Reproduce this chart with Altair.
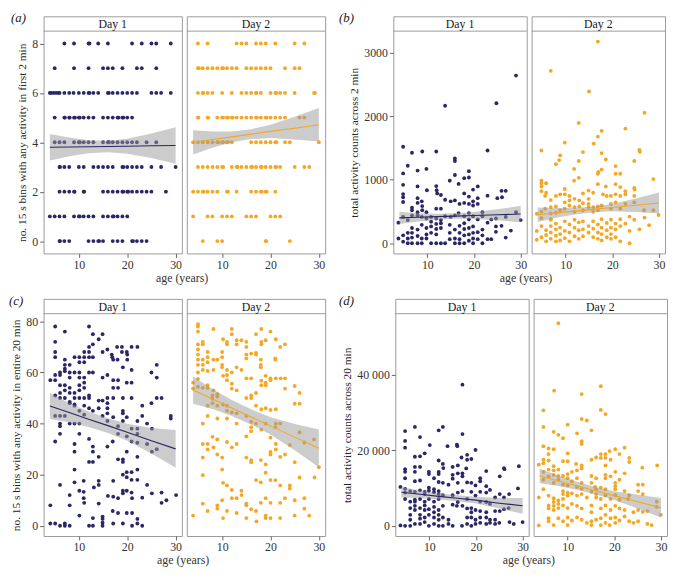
import altair as alt
import pandas as pd

SERIF = "'Liberation Serif', 'Times New Roman', Times, serif"
NAVY = "#2a2766"
ORANGE = "#f5a623"
BAND = "#999999"
BORDER = "#9a9a9a"
AGE_DOMAIN = [2.7, 31.3]
AGE_TICKS = [10, 20, 30]

# ---------- panel (a): activity bins in first 2 min (ages per level) ----------
a1_levels = {
    8: [7, 9, 12, 12.2, 14, 16, 21, 23, 25, 26, 29],
    7: [5, 9, 12, 15, 16, 17, 19, 22, 23, 26],
    6: [4, 4.3, 4.8, 5.3, 5.8, 6, 7, 8, 8.9, 10, 11, 12, 12.2, 13, 14, 16, 16.2, 17, 18, 19, 20, 21, 22, 25, 26, 27, 29],
    5: [5, 7, 7.1, 8, 8.1, 9, 9.2, 10, 10.2, 11, 12, 13, 15, 16, 17, 18, 18.2, 19, 19.2, 20, 21],
    4: [5, 6, 7, 9, 10, 10.2, 11, 12, 13, 15, 16, 16.2, 17, 18, 19, 20, 21, 22, 24, 26],
    3: [6, 6.1, 7, 8, 10, 11, 13, 14, 15, 16, 17, 19, 19.2, 20, 21, 22, 23, 25, 27, 30],
    2: [6, 7, 8, 9, 9.1, 11, 11.1, 15, 16, 17, 18, 19, 19.2, 20, 20.2, 21, 22, 23, 24, 25, 28],
    1: [4, 5, 6, 7, 9, 10, 10.2, 11, 12, 13, 15, 16, 17, 17.2, 18, 19, 20],
    0: [6, 6.1, 7, 8, 12, 13, 14, 14.2, 15, 17, 18, 19, 21, 21.2, 22, 23, 24],
}
a2_levels = {
    8: [5, 7, 13, 14, 15, 17, 18, 19, 21, 25, 27],
    7: [5, 5.2, 6, 7, 8, 9, 10, 10.2, 11, 12, 13, 15, 16, 17, 18, 19, 20, 23, 25, 26],
    6: [5, 6, 6.1, 7, 8, 10, 12, 14, 15, 16, 17, 17.1, 18, 20, 21, 21.2, 22, 23, 25, 29, 29.2],
    5: [5, 5.1, 7, 7.1, 9, 10, 10.2, 11, 11.2, 12, 12.2, 13, 14, 15, 16, 17, 17.2, 18, 19, 19.2, 20, 21, 22, 23, 26, 27],
    4: [4, 5, 6, 7, 8, 9, 9.2, 10, 10.2, 11, 11.2, 12, 16, 17, 18, 19, 20, 21, 21.2, 23, 24, 30],
    3: [5, 6, 7, 8, 9, 10, 10.2, 12, 13, 13.2, 14, 15, 16, 16.2, 17, 18, 18.2, 19, 20, 21, 21.2, 22, 25, 27, 28],
    2: [4, 5, 6, 6.2, 7, 8, 9, 11, 11.2, 13, 16, 17, 18, 18.2, 19, 19.2, 21],
    1: [4, 7, 8, 10, 11, 12, 15, 16, 17, 20, 21, 22],
    0: [6, 9, 10, 19, 19.1, 24],
}

# ---------- panel (b): total activity counts across 2 min (age, count) ----------
b1_pts = [(29.0,2640),(13.8,2165),(24.8,2205),(4.8,1520),(6.7,1425),(8.9,1445),(11.9,1445),(22.9,1460),(5.8,1220),(4.8,1100),(4.8,920),(7.9,1145),(9.8,1170),(15.9,1335),(15.9,1295),(18.9,1135),(18.9,1035),(14.8,985),(15.9,1075),(17.9,1025),(16.7,935),(20.8,895),(19.8,845),(4.8,775),(4.8,725),(4.8,650),(7.9,895),(9.9,835),(11.9,900),(12.0,835),(12.1,785),(12.9,760),(13.8,685),(15.0,660),(15.9,675),(17.9,785),(18.9,735),(18.9,620),(20.8,710),(20.8,620),(22.9,750),(25.0,710),(25.9,825),(26.8,825),(26.0,725),(7.9,710),(7.9,635),(8.8,660),(6.7,560),(6.7,520),(8.9,585),(8.9,520),(11.9,545),(12.9,545),(16.9,620),(17.9,635),(19.8,660),(19.8,595),
          (3.8,325),(4.8,415),(5.8,365),(6.7,440),(7.9,490),(7.9,440),(8.8,415),(9.8,490),(9.8,390),(10.8,415),(10.8,340),(11.9,390),(12.9,365),(13.8,425),(15.0,415),(15.9,440),(16.7,475),(17.9,425),(18.9,475),(18.9,375),(19.8,425),(20.8,375),(21.8,490),(21.8,425),(23.7,375),(24.7,390),(26.8,415),(29.0,490),(30.0,365),
          (3.8,75),(4.8,125),(4.8,25),(5.8,165),(5.8,75),(5.8,0),(6.7,240),(6.7,165),(6.7,90),(6.7,0),(7.9,215),(7.9,115),(7.9,0),(8.8,290),(8.8,75),(8.8,0),(9.8,240),(9.8,140),(9.8,75),(10.8,265),(10.8,165),(10.8,0),(11.9,305),(11.9,225),(11.9,140),(11.9,0),(12.9,315),(12.9,240),(12.9,0),(13.8,0),(14.8,290),(14.8,165),(14.8,65),(15.9,215),(15.9,75),(15.9,0),(16.9,275),(16.9,165),(16.9,65),(16.9,0),(17.9,315),(17.9,225),(17.9,125),(17.9,0),(18.9,240),(18.9,140),(18.9,40),(19.8,265),(19.8,165),(19.8,75),(19.8,0),(20.8,175),(20.8,65),(21.8,215),(21.8,125),(21.8,0),(22.9,325),(22.9,65),(23.7,65),(24.7,265),(24.7,180),(25.9,275),(26.8,90),(27.9,200)]
b2_pts = [(16.9,3175),(6.8,2715),(15.0,2390),(26.9,2055),(12.8,1895),(22.8,1805),(17.7,1770),(16.9,1680),(16.0,1570),(4.8,1460),(9.8,1585),(25.8,1470),(25.9,1440),(13.7,1435),(17.7,1420),(8.8,1385),(8.6,1310),(7.9,1245),(12.8,1295),(18.6,1320),(24.7,1295),(11.8,1170),(17.7,1160),(20.7,1215),(16.9,1095),(17.0,1125),(21.7,1095),(20.7,1095),(28.8,1010),(12.8,1030),(11.8,985),(4.8,985),(4.8,945),(4.8,895),(4.8,820),(5.8,945),(5.8,795),(9.8,855),(14.9,830),(16.9,930),(18.6,895),(20.7,930),(21.7,885),(22.8,820),(24.7,870),(24.8,845),(5.6,745),(6.8,680),(7.9,745),(8.8,770),(9.8,770),(10.8,745),(10.8,675),(11.9,700),(12.9,675),(13.7,785),(14.9,700),(15.9,795),(18.0,770),(18.8,745),(19.7,745),(20.7,770),(21.7,745),(22.8,770),(24.7,745),
          (3.8,465),(4.8,495),(4.8,395),(5.6,545),(6.8,570),(6.8,470),(6.8,380),(7.9,580),(7.9,480),(8.8,520),(9.8,645),(9.8,545),(10.8,595),(11.9,570),(11.9,495),(12.9,580),(13.7,630),(13.7,520),(14.9,620),(14.9,570),(15.9,570),(15.9,495),(16.9,580),(16.9,520),(17.7,595),(19.7,620),(19.7,545),(20.7,645),(21.7,545),(22.8,620),(24.7,645),(26.8,520),(28.8,520),(29.9,445),
          (3.8,195),(3.8,55),(4.8,270),(4.8,95),(5.8,205),(5.8,130),(5.8,30),(6.8,370),(6.8,270),(6.8,170),(6.8,70),(7.9,310),(7.9,220),(7.9,120),(7.9,30),(8.8,245),(8.8,145),(8.8,45),(9.8,345),(9.8,195),(9.8,80),(10.8,295),(10.8,170),(10.8,30),(11.9,370),(11.9,245),(11.9,110),(12.8,330),(12.8,205),(12.8,70),(13.7,345),(13.7,220),(13.7,110),(14.9,270),(14.9,170),(15.9,345),(15.9,230),(15.9,95),(16.9,295),(16.9,170),(16.9,70),(17.7,380),(17.7,245),(17.7,145),(17.7,45),(18.8,320),(18.8,205),(18.8,95),(19.7,370),(19.7,245),(19.7,145),(19.7,70),(20.7,310),(20.7,220),(20.7,95),(21.7,380),(21.7,270),(21.7,30),(22.8,310),(23.7,420),(23.7,195),(24.7,370),(25.8,220),(26.9,405),(27.9,285),(23.7,0)]

# ---------- panel (c): activity bins in entire 20 min (age, bins) ----------
c1_pts = [(5.1,78),(12.1,78),(7.1,76),(12.9,75),(14.1,73),(14.9,75),(5.1,72),(12.1,70),(12.9,71),(14.9,68),(15.9,69),(16.8,67),(16.9,66),(17.9,70),(18.9,70),(18.9,68),(19.9,68),(20.0,67),(20.9,70),(22.1,70),(5.1,68),(5.1,66),(7.1,65),(7.1,63),(7.1,61.5),(7.1,60.5),(8.1,63),(9.1,66),(10.1,66),(11.1,68),(11.1,66),(12.1,68),(12.1,66),(12.9,66),(10.1,64),(11.1,64),(17.1,65),(18.0,65),(20.0,65),(19.1,62),(20.9,61),(26.1,63),(25.0,60),(26.1,58),(4.1,57),(5.1,57),(5.1,59),(6.1,60),(6.1,59),(8.1,60),(8.1,58),(9.1,60),(10.1,60),(10.1,58),(11.1,58),(11.1,56),(12.1,60),(12.9,60),(14.9,58),(15.9,59),(17.1,57),(18.1,57),(18.1,54),(17.1,54),(19.9,56),(20.9,56),(6.1,55),(7.1,55),(7.1,53),(8.1,54),(8.1,52),(9.1,52),(10.1,55),(10.1,53),(11.1,54),(12.1,51),(5.1,51),(6.1,50),(6.1,52),(7.1,50),(8.1,48),(9.1,50),(9.1,47.5),(10.1,50),(11.1,50),(12.1,50),(14.1,49),(14.9,49),(15.9,50),(15.9,48),(17.1,50),(19.1,50),(20.9,50),(26.1,50),(27.1,50),(25.0,48),(23.1,47),(5.1,43),(6.1,43),(7.1,43),(6.1,40),(8.1,48.5),(9.1,47),(10.1,45),(11.1,47),(12.1,46),(12.9,45),(14.1,46),(14.9,43),(15.9,46),(15.9,44),(15.9,41),(17.1,42.5),(18.1,39),(18.1,36),(19.1,45),(19.1,44),(19.1,41),(19.9,42.5),(20.9,38),(22.1,41),(23.1,43),(24.1,40),(25.1,38),(29.0,43),(29.0,42),(5.1,33),(6.1,36),(6.1,39),(8.1,40),(9.1,40),(10.1,40),(10.1,36),(11.1,43.5),(12.1,34),(12.9,31),(12.9,29),(12.1,25),(12.9,25),(9.1,32),(9.1,29),(14.1,27),(15.9,31),(17.0,33),(19.9,35),(19.9,29),(20.9,33),(22.1,38),(22.1,36),(22.1,32.5),(22.1,27),(24.1,32),(25.1,29),(26.1,30),(18.1,26),(19.1,25),(19.1,26),(19.9,21),(20.9,21),(22.1,22),(20.9,18),(22.1,18),(19.1,20),(19.9,19),(9.1,22),(9.1,17),(6.1,16),(11.0,17.6),(14.1,17.6),(13.1,15),(14.1,16),(17.1,17.6),(19.1,13.7),(19.1,12.7),(19.9,13.7),(18.1,10.8),(17.1,11.4),(20.9,13),(21.0,10.8),(23.1,11),(24.1,16),(25.1,12.7),(27.1,13),(27.1,9),(28.1,10),(30.1,12),(8.1,12),(8.1,8),(10.1,13.7),(11.0,13.3),(11.0,10.8),(11.1,9),(14.1,8.7),(16.0,11.7),(17.0,5.8),(18.1,5),(19.9,5),(21.0,5),(22.1,2.7),(4.1,8),(10.1,4),(12.9,3),(14.9,3.6),(14.9,2.7),(14.9,1.2),(4.1,0.9),(5.1,0.9),(6.1,0),(7.1,0.9),(7.1,0),(8.1,0),(12.1,0),(12.9,0),(14.9,0),(17.1,0.9),(19.1,0.9),(21.0,0),(23.1,0),(22.1,0.9)]
c2_pts = [(5,78.9),(5,78),(5,76),(8.2,77),(12,77),(12,75),(18.1,77),(20,76),(17,75),(10.2,73),(11,72),(11,71),(13,72.6),(13,71),(14,72.6),(15,72),(15,70),(18.1,72),(18.1,71),(19,72.6),(21.1,73),(22,70),(23,71),(5,71),(5,69),(5,67),(5,65),(5,63),(6,72),(6,71),(7,68),(7,66),(7,64),(6,65),(6,63),(5,60),(6,61),(7,60.6),(8.2,65),(8.2,61),(9,65),(10,68),(10,66),(10,63),(10,62),(11,61),(11,59),(11,57),(12,60),(13,62),(14,61),(15,65.5),(15,67),(16,67.4),(17,67.7),(17,67),(18,65),(18,63),(18,62),(21,65.5),(21,65),(19,58.7),(20,57.7),(20,57),(21.1,57.7),(22.1,57.7),(23,57.7),(19,56),(18.1,56.8),(16,57.7),(15,57.7),(12,55.6),(12,53.7),(13,53),(10.2,58.7),(7,55),(7,54),(4,56),(4,53.7),(5,54.4),(5,57.5),(6,54),(8.2,53),(9,51.5),(9,50.6),(8,51),(8,49.8),(8,48),(9,47),(10.2,47.5),(11,47),(11,45),(12,44.4),(13,44),(15,50),(16,51),(16,50),(17,52),(17,47),(18.1,55),(19,55),(18.1,45.6),(19,46),(20,45.3),(21.1,45.6),(23,53.7),(25,54.7),(25,47.8),(26,52),(26,47.8),(7,47),(7,43),(6,40),(9,42),(11,42),(13,40),(15,43),(16,40.7),(16,38.6),(16,37),(17,40),(19,40),(21.1,40),(22,40),(21,38.6),(15,35),(18.1,37.6),(20,34.5),(21.1,32),(24,31.6),(26,36.6),(27,32.6),(29,33.8),(8,34.8),(9,33.8),(6,32),(7,32),(7,29.9),(8.2,30.7),(11,32.8),(12,30.7),(13,32),(6,26.7),(9,27.9),(10,26.7),(15,26.7),(16,25.7),(16,24.9),(18,25.7),(20,28.9),(20,27.9),(21.1,29.9),(22,27),(23,27.9),(25,24.9),(19,24),(19,20.8),(30,22.9),(6,19.8),(10,22),(10.2,16.8),(11,15.8),(17,17.9),(18,17),(20,17.9),(21,17.9),(22,15.8),(24,15.8),(24,14.6),(26,18.9),(29.1,18.9),(12,14),(14,13.7),(14,12),(13,10.8),(12,10.8),(10,10),(9,8),(9,6.7),(6,8.7),(7,5.8),(11,5.8),(13,5),(15,8.7),(15,8),(16,6.5),(17,5.8),(18,9),(19,10.8),(20,9),(22,9),(23,10.8),(25,10),(27,10.8),(27,6.7),(28,4),(25,4),(22,3),(20,3),(19,4),(19,3),(17.1,1.7),(15,3),(10.2,3),(4,4)]

# ---------- panel (d): total activity counts across 20 min (age, thousands of counts) ----------
d1_pts_k = [(17.1,37.4),(6.9,26.2),(4.8,25.1),(12.9,26.2),(12.0,25.3),(8.0,23.5),(17.1,24.3),(4.8,22.5),(4.8,20.7),(10.1,21.4),(13.9,21.1),(15.9,21.5),(16.0,21.1),(19.9,20.1),(18.1,18.8),(18.1,17.5),(19.0,17.7),(6.9,18.3),(8.0,18.4),(9.0,19.2),(12.0,17.3),(12.9,16.4),(13.0,15.3),(15.0,15.6),(16.1,16.0),(16.9,18.1),(17.1,13.9),(17.1,13.1),(17.9,15.2),(16.1,13.9),(22.2,14.5),(26.0,15.3),(26.1,15.0),(29.2,15.8),(4.8,15.0),(4.8,14.3),(4.8,12.6),(6.9,15.6),(6.9,14.3),(8.0,15.6),(6.9,11.8),(8.0,12.0),(9.9,14.3),(9.9,13.7),(12.0,14.3),(12.0,13.7),(11.0,12.6),(15.0,13.5),(15.0,12.5),(16.1,11.4),(12.0,11.6),(12.9,11.4),(14.1,10.9),(18.1,11.5),(19.0,11.4),(20.9,12.6),(20.9,11.8),(19.9,10.7),(22.2,10.5),(23.0,9.5),(25.1,13.1),(25.1,8.4),(27.1,8.4),(29.0,9.9),(3.8,10.3),(4.8,9.8),(4.8,8.8),(5.9,9.2),(6.9,9.0),(6.9,6.9),(8.0,9.4),(9.0,8.4),(9.0,9.0),(9.9,10.1),(9.9,9.3),(11.0,9.7),(11.0,8.9),(12.0,9.2),(12.0,8.4),(12.9,8.1),(15.0,8.1),(16.1,8.8),(17.1,9.2),(19.0,9.0),(19.9,8.0),(20.9,9.0),(22.2,8.8),(24.1,7.5),(26.0,7.5),(4.8,7.1),(5.9,6.4),(6.9,6.4),(8.0,7.1),(9.0,6.4),(9.9,7.1),(11.0,6.4),(12.0,7.1),(15.0,5.6),(16.1,6.3),(18.1,7.1),(20.9,6.4),(22.2,6.3),(23.0,5.8),(27.0,4.7),(26.0,4.4),(25.1,3.9),(24.1,3.9),(5.9,4.7),(6.9,5.3),(6.9,4.2),(8.0,4.7),(9.0,5.4),(9.0,4.2),(9.9,4.4),(11.0,5.0),(11.0,3.6),(12.0,4.2),(12.9,5.3),(15.9,5.3),(17.1,5.3),(18.1,4.6),(19.0,4.7),(19.0,3.6),(19.9,4.2),(20.9,3.9),(22.2,3.6),(5.9,2.9),(5.9,1.6),(8.0,2.9),(8.0,1.9),(9.0,2.2),(9.9,2.9),(11.0,2.2),(12.0,2.9),(12.0,1.6),(12.9,2.2),(14.1,1.6),(18.1,2.2),(19.0,2.2),(19.9,1.6),(20.9,2.2),(22.2,2.2),(23.0,1.6),(24.1,1.6),(3.8,0.1),(4.8,0),(5.9,0),(6.9,0.5),(8.0,0.5),(9.0,1.0),(9.9,0),(11.0,0.5),(12.0,0),(12.9,0),(14.1,0.5),(15.0,0),(17.0,0),(18.1,0.5),(19.0,0),(19.9,0.5),(20.9,0.8),(22.2,0.5),(23.0,0.8),(24.1,0.5),(25.0,0.8),(27.2,1.0),(28.1,0.5),(30.0,1.0)]
d2_pts_k = [(8.0,53.7),(7.1,35.8),(17.1,37.0),(13.0,34.9),(17.1,30.7),(4.8,30.6),(18.1,29.6),(13,28.3),(14.1,27.9),(4.8,26.2),(10,26.8),(15.1,25.3),(7,24.9),(8,24.1),(12,24.5),(9,23.2),(13,22.4),(13,21.7),(4.8,21.1),(5.9,20.5),(7,20.3),(5.9,19.0),(10,19.2),(19,19.8),(20.2,20.3),(22.2,20.7),(21.1,19.0),(17.1,19.0),(18.1,19.0),(17.1,18.0),(18.1,18.0),(16.1,18.1),(15.1,17.5),(19.2,17.5),(18.1,16.0),(23.2,18.0),(23.2,16.9),(26,15.4),(29.2,16.0),(3.8,16.2),(4.8,17.5),(4.8,16.6),(5.9,17.3),(7,15.8),(9,17.1),(10,17.1),(11.8,16.4),(13,16.0),(13,15.2),(12,14.7),(10.9,14.3),(10,13.7),(9,13.2),(8,14.9),(7,14.7),(5.9,14.9),(4.8,14.3),(4.8,12.2),(5.9,13.1),(7,13.5),(8,13.2),(15.1,13.2),(16.1,12.6),(18.1,13.5),(18.1,12.6),(19.2,13.1),(20.2,14.3),(20.2,11.4),(21.1,12.2),(22.2,13.9),(25.1,10.9),(26.1,10.9),(26.1,8.4),(25.1,9.2),(3.8,7.5),(4.8,9.7),(7,11.4),(8,12.2),(9,10.9),(10,12.6),(10,10.7),(10.9,11.8),(12,12.6),(12,10.3),(13,11.4),(13,9.8),(15.1,11.4),(15.9,10.3),(16.1,9.7),(16.1,8.4),(17.1,10.1),(18.1,9.7),(20.2,10.5),(20.2,9.7),(22.2,9.2),(23.2,8.1),(5.9,8.0),(7,7.3),(7,6.3),(8,6.7),(9,9.2),(9,8.4),(9,7.1),(10,8.8),(10,8.0),(10.9,8.6),(12,8.0),(13,8.4),(14.1,7.5),(15.1,9.0),(16.1,7.5),(17.1,7.1),(18.1,8.1),(19.2,7.1),(20.2,8.1),(21.1,6.9),(23,7.1),(5.9,5.4),(5.9,4.6),(7,5.3),(7,4.2),(8,5.8),(8,4.7),(9,5.4),(10,4.7),(10.9,5.8),(12,5.3),(13,4.6),(15.1,5.4),(15.1,3.6),(17.1,4.6),(18.1,5.4),(19.2,4.2),(20.2,5.3),(21.1,4.6),(22.2,4.2),(24.1,3.6),(25.1,4.2),(26.1,3.7),(27.1,3.9),(29.1,6.4),(29.1,5.0),(30,2.9),(5.9,2.0),(5.9,1.2),(8,2.0),(9,1.2),(10,2.2),(10.9,1.4),(12,2.2),(13,1.6),(14.1,0.8),(15.1,1.2),(16.1,1.6),(17.1,2.0),(18.1,2.9),(18.1,0.8),(19.2,2.0),(20.2,2.2),(20.2,0.8),(21.1,1.4),(22.2,2.5),(23.2,1.2),(24.1,0.8),(25.1,1.2),(27.1,0.5),(28,0.2),(3.8,0.1),(7,0.2),(10,0.2),(15.1,0.2),(17.1,0.2),(19,0.2)]

# ---------- fitted linear trends with 95% bands, read at these ages ----------
fit_age = [4, 8, 12, 16, 20, 25, 30]
a1_fit = [3.80, 3.81, 3.82, 3.83, 3.84, 3.86, 3.87]
a1_lo = [3.26, 3.43, 3.56, 3.60, 3.54, 3.36, 3.13]
a1_hi = [4.34, 4.19, 4.08, 4.06, 4.14, 4.36, 4.61]
a2_fit = [4.00, 4.11, 4.22, 4.33, 4.44, 4.57, 4.71]
a2_lo = [3.51, 3.78, 4.00, 4.13, 4.17, 4.11, 4.03]
a2_hi = [4.49, 4.44, 4.44, 4.53, 4.71, 5.03, 5.39]
b1_fit = [400, 409, 419, 428, 437, 449, 460]
b1_lo = [305, 344, 372, 385, 382, 364, 330]
b1_hi = [495, 474, 466, 471, 492, 534, 590]
b2_fit = [450, 478, 506, 534, 562, 598, 635]
b2_lo = [335, 400, 454, 489, 504, 493, 470]
b2_hi = [565, 556, 558, 579, 620, 703, 800]
c1_fit = [46.9, 44.3, 41.7, 39.2, 36.6, 33.3, 30.1]
c1_lo = [41.8, 40.5, 38.7, 36.3, 33.3, 28.3, 22.7]
c1_hi = [52.0, 48.1, 44.7, 42.1, 39.9, 38.3, 37.5]
c2_fit = [53.1, 49.6, 46.1, 42.6, 39.1, 34.7, 30.3]
c2_lo = [47.8, 45.7, 43.0, 39.6, 35.7, 29.6, 22.9]
c2_hi = [58.4, 53.5, 49.2, 45.6, 42.5, 39.8, 37.7]
d1_fit_k = [8.9, 8.35, 7.8, 7.3, 6.8, 6.0, 5.3]
d1_lo_k = [7.5, 7.35, 6.98, 6.5, 5.9, 4.6, 3.2]
d1_hi_k = [10.3, 9.35, 8.62, 8.1, 7.7, 7.4, 7.4]
d2_fit_k = [13.2, 11.9, 10.6, 9.3, 8.0, 6.4, 4.8]
d2_lo_k = [11.3, 10.55, 9.55, 8.3, 6.85, 4.6, 2.2]
d2_hi_k = [15.1, 13.25, 11.65, 10.3, 9.15, 8.2, 7.4]

H = 240      # view height incl. strip
S = 15       # strip height


def levels_df(levels):
    rows = [(age, lvl) for lvl, ages in levels.items() for age in ages]
    return pd.DataFrame(rows, columns=["age", "val"])


def pts_df(pts, mult=1):
    return pd.DataFrame([(a, v * mult) for a, v in pts], columns=["age", "val"])


def fit_df(fit, lo, hi, mult=1):
    return pd.DataFrame({"age": fit_age,
                         "fit": [v * mult for v in fit],
                         "lo": [v * mult for v in lo],
                         "hi": [v * mult for v in hi]})


def panel(label, label_dx, ytitle, ydomain, yticks, W, days, label_expr, xtitle_dx=0):
    cells = []
    for i, (day, df, fd, col) in enumerate(days):
        xs = alt.Scale(domain=AGE_DOMAIN, nice=False, zero=False)
        xax = alt.Axis(values=AGE_TICKS, title=None, labelFlush=False)
        ys = alt.Scale(domain=ydomain, range=[H, S], nice=False, zero=False)
        if i == 0:
            yax = alt.Axis(values=yticks, title=ytitle, labelFlush=False, labelExpr=label_expr)
        else:
            yax = None
        pts = alt.Chart(df).mark_circle(size=15, opacity=1, color=col).encode(
            x=alt.X("age:Q", scale=xs, axis=xax),
            y=alt.Y("val:Q", scale=ys, axis=yax),
        )
        band = alt.Chart(fd).mark_area(color=BAND, opacity=0.5).encode(
            x=alt.X("age:Q", scale=xs, axis=xax),
            y=alt.Y("lo:Q", scale=ys, axis=yax),
            y2="hi:Q",
        )
        line = alt.Chart(fd).mark_line(color=col, strokeWidth=1.1).encode(
            x=alt.X("age:Q", scale=xs, axis=xax),
            y=alt.Y("fit:Q", scale=ys, axis=yax),
        )
        one = pd.DataFrame({"t": [day]})
        rule = alt.Chart(one).mark_rule(color=BORDER, strokeWidth=1).encode(
            x=alt.value(0), x2=alt.value(W), y=alt.value(S))
        txt = alt.Chart(one).mark_text(font=SERIF, fontSize=12, color="#1a1a1a",
                                       baseline="middle", align="center").encode(
            text="t:N", x=alt.value(W / 2), y=alt.value(S / 2 + 0.5))
        layers = [pts, band, line, rule, txt]
        if i == 0:
            lab = alt.Chart(pd.DataFrame({"t": [label]})).mark_text(
                font=SERIF, fontSize=13, fontStyle="italic", color="#1a1a1a",
                align="left", baseline="middle").encode(
                text="t:N", x=alt.value(label_dx), y=alt.value(2))
            layers.append(lab)
        cells.append(alt.layer(*layers).properties(width=W, height=H))
    return alt.hconcat(*cells, spacing=3).properties(
        title=alt.TitleParams("age (years)", orient="bottom", anchor="middle",
                              font=SERIF, fontSize=12, fontWeight="normal",
                              color="#333333", offset=2, dx=xtitle_dx))


PLAIN = "format(datum.value, 'd')"
SPACED = "replace(format(datum.value, ','), ',', ' ')"

pa = panel("(a)", -33, "no. 15 s bins with any activity in first 2 min",
           [-0.5, 8.5], [0, 2, 4, 6, 8], 140,
           [("Day 1", levels_df(a1_levels), fit_df(a1_fit, a1_lo, a1_hi), NAVY),
            ("Day 2", levels_df(a2_levels), fit_df(a2_fit, a2_lo, a2_hi), ORANGE)],
           PLAIN, xtitle_dx=14)
pb = panel("(b)", -55, "total activity counts across 2 min",
           [-160, 3340], [0, 1000, 2000, 3000], 135,
           [("Day 1", pts_df(b1_pts), fit_df(b1_fit, b1_lo, b1_hi), NAVY),
            ("Day 2", pts_df(b2_pts), fit_df(b2_fit, b2_lo, b2_hi), ORANGE)],
           PLAIN, xtitle_dx=24)
pc = panel("(c)", -35, "no. 15 s bins with any activity in entire 20 min",
           [-4, 83], [0, 20, 40, 60, 80], 140,
           [("Day 1", pts_df(c1_pts), fit_df(c1_fit, c1_lo, c1_hi), NAVY),
            ("Day 2", pts_df(c2_pts), fit_df(c2_fit, c2_lo, c2_hi), ORANGE)],
           PLAIN, xtitle_dx=16)
pd_ = panel("(d)", -57, "total activity counts across 20 min",
            [-2700, 56200], [0, 20000, 40000], 135,
            [("Day 1", pts_df(d1_pts_k, 1000), fit_df(d1_fit_k, d1_lo_k, d1_hi_k, 1000), NAVY),
             ("Day 2", pts_df(d2_pts_k, 1000), fit_df(d2_fit_k, d2_lo_k, d2_hi_k, 1000), ORANGE)],
            SPACED, xtitle_dx=26)

chart = alt.vconcat(
    alt.hconcat(pa, pb, spacing=12),
    alt.hconcat(pc, pd_, spacing=12),
    spacing=10,
).properties(
    padding={"left": 0, "top": 0, "right": 0, "bottom": 0},
    background="white",
).configure_view(
    stroke=BORDER, strokeWidth=1, fill="white"
).configure_axis(
    grid=False, domain=False,
    labelFont=SERIF, labelFontSize=12, labelColor="#333333", labelPadding=2,
    tickColor="#666666", tickSize=4, tickWidth=1,
    titleFont=SERIF, titleFontSize=11.5, titleFontWeight="normal", titleColor="#222222",
    titlePadding=4,
)

chart.save("out.html", embed_options={"renderer": "svg", "actions": False})
